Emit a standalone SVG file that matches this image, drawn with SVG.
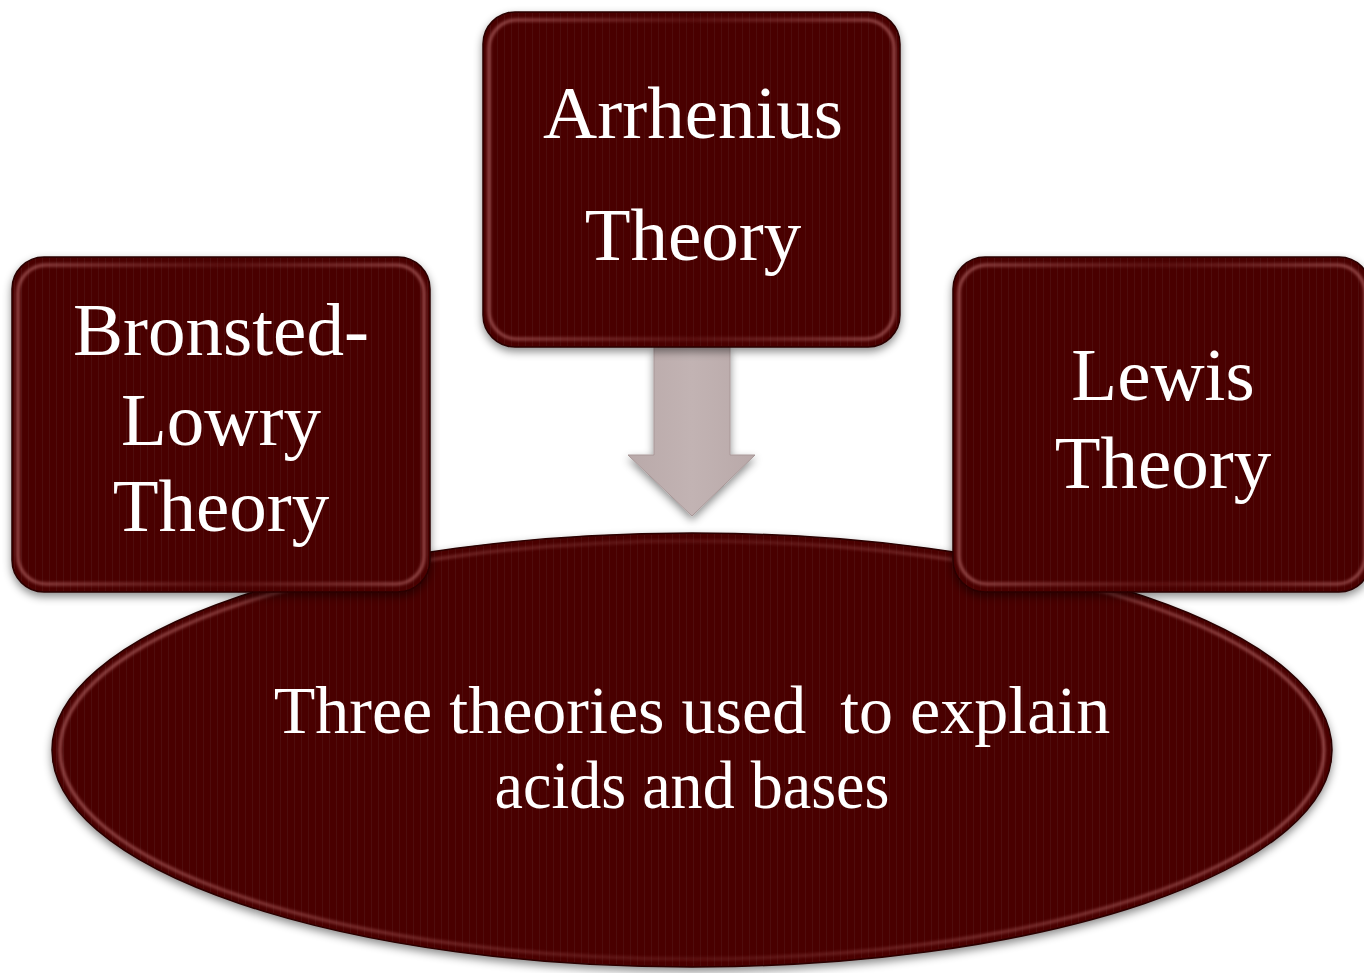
<svg xmlns="http://www.w3.org/2000/svg" width="1364" height="973" viewBox="0 0 1364 973">
  <defs>
    <filter id="shadow" x="-10%" y="-10%" width="120%" height="125%">
      <feDropShadow dx="0" dy="4" stdDeviation="4" flood-color="#000" flood-opacity="0.45"/>
    </filter>
    <filter id="soft" x="-5%" y="-5%" width="110%" height="110%">
      <feGaussianBlur stdDeviation="1.5"/>
    </filter>
    <pattern id="stripes" width="7" height="10" patternUnits="userSpaceOnUse">
      <rect width="7" height="10" fill="#4a0303"/>
      <rect x="0" width="1" height="10" fill="#561010" opacity="0.45"/>
    </pattern>
    <linearGradient id="bevel" x1="0" y1="0" x2="1" y2="0">
      <stop offset="0" stop-color="#b86a6a" stop-opacity="0.75"/>
      <stop offset="0.5" stop-color="#a05050" stop-opacity="0.25"/>
      <stop offset="1" stop-color="#b86a6a" stop-opacity="0.75"/>
    </linearGradient>
    <linearGradient id="arrowFill" x1="0" y1="0" x2="1" y2="0">
      <stop offset="0" stop-color="#b9a9a9"/>
      <stop offset="0.5" stop-color="#c2b3b3"/>
      <stop offset="1" stop-color="#b9a9a9"/>
    </linearGradient>
  </defs>
  <style>
    .shape { fill: url(#stripes); stroke: #2a0000; stroke-width: 1.5; }
    .bev { fill: none; stroke: url(#bevel); stroke-width: 3; }
    .lbl { font-family: "Liberation Serif", "DejaVu Serif", serif; fill: #ffffff; text-anchor: middle; }
    .box { font-size: 75px; }
    .ell { font-size: 68px; }
  </style>
  <rect width="1364" height="973" fill="#ffffff"/>

  <g id="center">
    <ellipse cx="692" cy="750" rx="640" ry="217" class="shape" filter="url(#shadow)"/>
    <ellipse cx="692" cy="750" rx="632" ry="209" class="bev" filter="url(#soft)"/>
    <text class="lbl ell" xml:space="preserve" x="692" y="733">Three theories used  to explain</text>
    <text class="lbl ell" x="692" y="808" textLength="395" lengthAdjust="spacingAndGlyphs">acids and bases</text>
  </g>

  <g id="connectors">
    <path d="M654,347 L730,347 L730,455 L755,455 L692,516 L628,455 L654,455 Z" fill="url(#arrowFill)" stroke="#a89797" stroke-width="1" filter="url(#shadow)"/>
  </g>

  <g id="arrhenius">
    <rect x="483" y="12" width="417" height="335" rx="32" class="shape" filter="url(#shadow)"/>
    <rect x="489" y="20" width="405" height="319" rx="28" class="bev" filter="url(#soft)"/>
    <text class="lbl box" x="693" y="138">Arrhenius</text>
    <text class="lbl box" x="693" y="260">Theory</text>
  </g>

  <g id="bronsted">
    <rect x="12" y="257" width="418" height="335" rx="32" class="shape" filter="url(#shadow)"/>
    <rect x="18" y="265" width="406" height="319" rx="28" class="bev" filter="url(#soft)"/>
    <text class="lbl box" x="221" y="355">Bronsted-</text>
    <text class="lbl box" x="221" y="445">Lowry</text>
    <text class="lbl box" x="221" y="531">Theory</text>
  </g>

  <g id="lewis">
    <rect x="953" y="257" width="418" height="335" rx="32" class="shape" filter="url(#shadow)"/>
    <rect x="959" y="265" width="406" height="319" rx="28" class="bev" filter="url(#soft)"/>
    <text class="lbl box" x="1163" y="400">Lewis</text>
    <text class="lbl box" x="1163" y="488">Theory</text>
  </g>
</svg>
